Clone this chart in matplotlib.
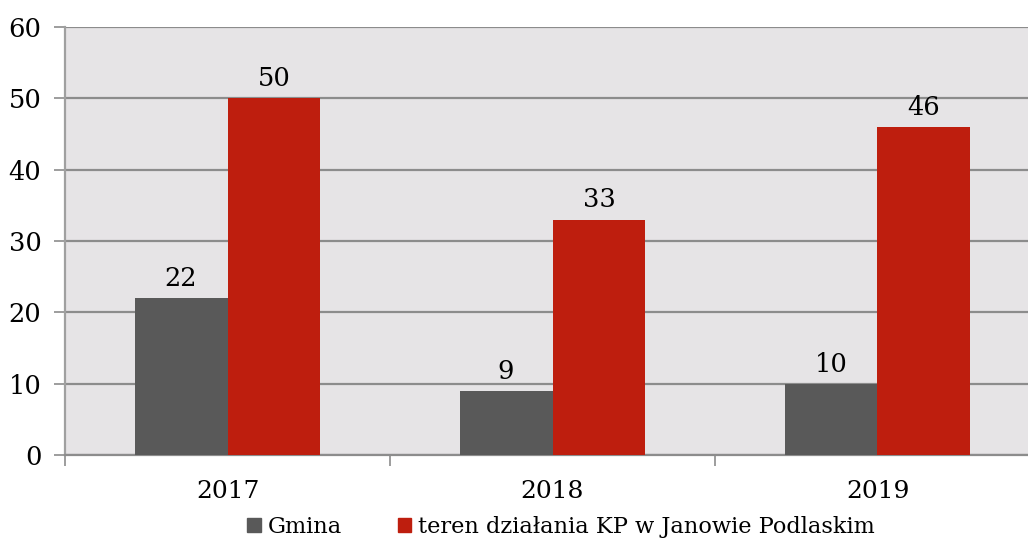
import numpy as np
import matplotlib
matplotlib.use("Agg")
import matplotlib.pyplot as plt
from matplotlib.patches import Patch

years = ["2017", "2018", "2019"]
gmina = [22, 9, 10]
teren = [50, 33, 46]
labels = ["Gmina", "teren działania KP w Janowie Podlaskim"]

plt.rcParams["font.family"] = ["DejaVu Serif"]

fig = plt.figure(figsize=(10.28, 5.41), dpi=100)
# plot area runs slightly past the right edge like in the original
ax = fig.add_axes([65 / 1028, 1 - 455 / 541, 975 / 1028, 428 / 541])
ax.set_facecolor("#e6e4e6")

x = np.arange(len(years))
w = 0.286
b1 = ax.bar(x - w / 2, gmina, w, color="#595959", zorder=3)
b2 = ax.bar(x + w / 2, teren, w, color="#be1e0e", zorder=3)

for bars in (b1, b2):
    for r in bars:
        ax.text(r.get_x() + r.get_width() / 2, r.get_height() + 1.0, str(int(r.get_height())),
                ha="center", va="bottom", fontsize=18.5)

ax.set_ylim(0, 60)
ax.set_xlim(-0.5, 2.5)
ax.set_yticks(range(0, 61, 10))
ax.yaxis.grid(True, color="#8c8c8c", linewidth=1.6, zorder=0)
ax.set_axisbelow(True)

ax.set_xticks(x)
ax.set_xticklabels(years)
ax.set_xticks([-0.5, 0.5, 1.5, 2.5], minor=True)
ax.tick_params(axis="x", which="major", length=0, pad=18, labelsize=18)
ax.tick_params(axis="x", which="minor", length=8, width=1.2, color="#8c8c8c")
ax.tick_params(axis="y", length=8, width=1.2, color="#8c8c8c", labelsize=18.5, pad=9)

for s in ["top", "right"]:
    ax.spines[s].set_visible(False)
ax.spines["left"].set_color("#a0a0a0")
ax.spines["left"].set_linewidth(1.6)
ax.spines["bottom"].set_color("#8c8c8c")
ax.spines["bottom"].set_linewidth(1.6)

handles = [Patch(color="#595959"), Patch(color="#be1e0e")]
fig.legend(handles, labels, loc="center", bbox_to_anchor=(561 / 1028, 1 - 527 / 541),
           ncol=2, frameon=False, fontsize=16.2, handlelength=0.6, handleheight=0.6,
           handletextpad=0.3, columnspacing=2.5)

fig.savefig("out.png", dpi=100)
